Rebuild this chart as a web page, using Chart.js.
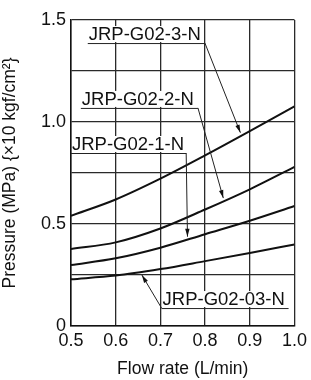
<!DOCTYPE html>
<html>
<head>
<meta charset="utf-8">
<script src="https://cdn.jsdelivr.net/npm/chart.js@4"></script>
<style>
  html, body { margin: 0; padding: 0; background: #fff; }
  #wrap { width: 311px; height: 380px; }
</style>
</head>
<body>
<div id="wrap"><canvas id="chartCanvas" width="311" height="380"></canvas></div>
<script>
// flow rate (L/min) on x, pressure (MPa) on y
const flowRate = [0.5, 0.6, 0.7, 0.8, 0.9, 1.0];
const g02_3 = [0.54, 0.62, 0.722, 0.836, 0.955, 1.077];
const g02_2 = [0.377, 0.41, 0.478, 0.571, 0.67, 0.78];
const g02_1 = [0.299, 0.332, 0.384, 0.45, 0.516, 0.588];
const g02_03 = [0.229, 0.247, 0.279, 0.318, 0.358, 0.4];

// callout labels: underline from x0 to x1 at level y, leader from one end to the curve
const calloutNames = ["JRP-G02-3-N", "JRP-G02-2-N", "JRP-G02-1-N", "JRP-G02-03-N"];
const calloutX0 = [0.5375, 0.522, 0.5, 0.7026];
const calloutX1 = [0.7996, 0.784, 0.7577, 0.9868];
const calloutY = [1.387, 1.069, 0.848, 0.088];
const calloutFrom = ["end", "end", "end", "start"];
const calloutTipX = [0.879, 0.8407, 0.7606, 0.6586];
const calloutTipY = [0.9475, 0.627, 0.4377, 0.25];

const FONT = "'Liberation Sans', Arial, sans-serif";

const toPoints = arr => arr.map((v, i) => ({ x: flowRate[i], y: v }));

const curveStyle = {
  borderColor: "#111",
  borderWidth: 2,
  pointRadius: 0,
  fill: false,
  cubicInterpolationMode: "monotone"
};

const callouts = {
  id: "callouts",
  afterDatasetsDraw(chart) {
    const ctx = chart.ctx;
    const xs = chart.scales.x, ys = chart.scales.y;
    ctx.save();
    ctx.font = "18.5px " + FONT;
    ctx.strokeStyle = "#222";
    ctx.lineWidth = 1;
    calloutNames.forEach((name, i) => {
      const x0 = xs.getPixelForValue(calloutX0[i]);
      const x1 = xs.getPixelForValue(calloutX1[i]);
      const y = ys.getPixelForValue(calloutY[i]);
      // white box behind the text so the grid does not cross it
      ctx.fillStyle = "#fff";
      ctx.fillRect(x0 + 1, y - 17, x1 - x0 - 2, 16);
      ctx.fillStyle = "#111";
      ctx.textAlign = "left";
      ctx.textBaseline = "alphabetic";
      ctx.fillText(name, x0 + 1, y - 3);
      ctx.beginPath();
      ctx.moveTo(x0, y + 0.5);
      ctx.lineTo(x1, y + 0.5);
      ctx.stroke();

      const sx = calloutFrom[i] === "end" ? x1 : x0;
      const tx = xs.getPixelForValue(calloutTipX[i]);
      const ty = ys.getPixelForValue(calloutTipY[i]);
      ctx.beginPath();
      ctx.moveTo(sx, y);
      ctx.lineTo(tx, ty);
      ctx.stroke();
      // arrow head
      const ang = Math.atan2(ty - y, tx - sx);
      const len = 8, half = 2.2;
      ctx.beginPath();
      ctx.moveTo(tx, ty);
      ctx.lineTo(tx - len * Math.cos(ang) + half * Math.sin(ang), ty - len * Math.sin(ang) - half * Math.cos(ang));
      ctx.lineTo(tx - len * Math.cos(ang) - half * Math.sin(ang), ty - len * Math.sin(ang) + half * Math.cos(ang));
      ctx.closePath();
      ctx.fillStyle = "#111";
      ctx.fill();
    });
    ctx.restore();
  }
};

const gridStyle = {
  display: true,
  drawOnChartArea: true,
  drawTicks: false,
  color: "#2a2a2a",
  lineWidth: 1.3
};

new Chart(document.getElementById("chartCanvas"), {
  type: "line",
  data: {
    datasets: [
      Object.assign({ label: calloutNames[0], data: toPoints(g02_3) }, curveStyle),
      Object.assign({ label: calloutNames[1], data: toPoints(g02_2) }, curveStyle),
      Object.assign({ label: calloutNames[2], data: toPoints(g02_1) }, curveStyle),
      Object.assign({ label: calloutNames[3], data: toPoints(g02_03) }, curveStyle)
    ]
  },
  options: {
    responsive: false,
    animation: false,
    layout: { padding: { top: 20, right: 13, left: 0, bottom: 0 } },
    plugins: { legend: { display: false }, tooltip: { enabled: false } },
    scales: {
      x: {
        type: "linear",
        min: 0.5,
        max: 1.0,
        afterFit: s => { s.height = 54; },
        ticks: {
          stepSize: 0.1,
          color: "#111",
          padding: 4,
          font: { family: FONT, size: 18 },
          callback: v => v.toFixed(1)
        },
        grid: gridStyle,
        border: { color: "#111", width: 1.5 },
        title: {
          display: true,
          text: "Flow rate (L/min)",
          color: "#111",
          font: { family: FONT, size: 17.5 },
          padding: { top: 0, bottom: 0 }
        }
      },
      y: {
        type: "linear",
        min: 0,
        max: 1.5,
        afterFit: s => { s.width = 71; },
        ticks: {
          stepSize: 0.25,
          color: "#111",
          padding: 5,
          font: { family: FONT, size: 18 },
          callback: v => (Math.abs(v % 0.5) < 1e-9 ? (v === 0 ? "0" : v.toFixed(1)) : "")
        },
        grid: gridStyle,
        border: { color: "#111", width: 1.5 },
        title: {
          display: true,
          text: "Pressure (MPa) {×10 kgf/cm²}",
          color: "#111",
          font: { family: FONT, size: 17.5 },
          padding: { top: 0, bottom: 2 }
        }
      }
    }
  },
  plugins: [callouts]
});
</script>
</body>
</html>
